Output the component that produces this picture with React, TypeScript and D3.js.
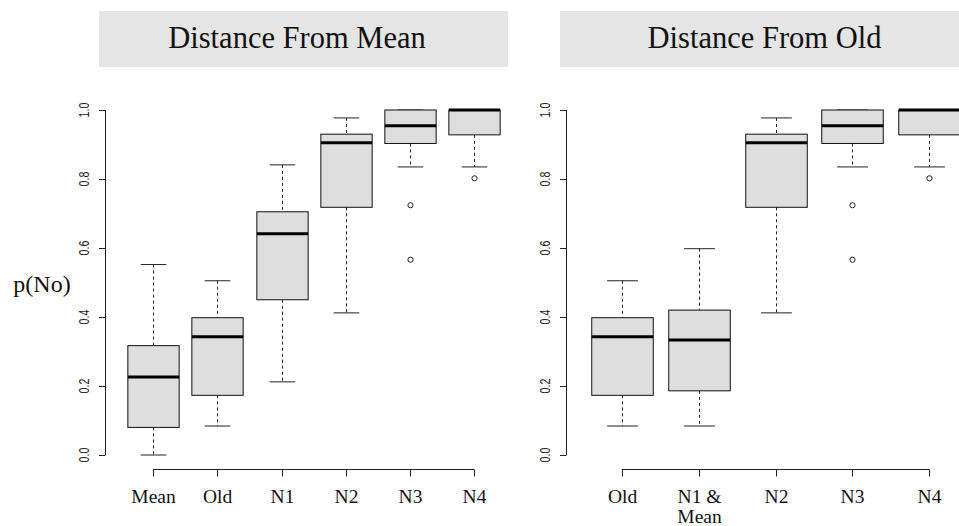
import React from "react";
import * as d3 from "d3";

// ---- data ----
const meanPanelTitle = "Distance From Mean";
const oldPanelTitle = "Distance From Old";
const meanPanelCategories = ["Mean", "Old", "N1", "N2", "N3", "N4"];
const oldPanelCategories = ["Old", "N1 &\nMean", "N2", "N3", "N4"];
// five-number summaries: [lower whisker, Q1, median, Q3, upper whisker]
const meanPanelStats: number[][] = [
  [0.0, 0.08, 0.226, 0.317, 0.552],
  [0.084, 0.173, 0.343, 0.398, 0.505],
  [0.212, 0.45, 0.641, 0.705, 0.841],
  [0.412, 0.718, 0.905, 0.93, 0.977],
  [0.835, 0.903, 0.954, 1.0, 1.0],
  [0.835, 0.928, 1.0, 1.0, 1.0],
];
const meanPanelOutliers: number[][] = [[], [], [], [], [0.724, 0.566], [0.802]];
const oldPanelStats: number[][] = [
  [0.084, 0.173, 0.343, 0.398, 0.505],
  [0.084, 0.186, 0.333, 0.42, 0.598],
  [0.412, 0.718, 0.905, 0.93, 0.977],
  [0.835, 0.903, 0.954, 1.0, 1.0],
  [0.835, 0.928, 1.0, 1.0, 1.0],
];
const oldPanelOutliers: number[][] = [[], [], [], [0.724, 0.566], [0.802]];
const yTicks = [0, 0.2, 0.4, 0.6, 0.8, 1.0];
const yLabel = "p(No)";

const SERIF = "'Liberation Serif', 'DejaVu Serif', serif";
const SANS = "'Liberation Sans', Arial, sans-serif";

type PanelProps = {
  title: string;
  titleCx: number;
  stripX: number;
  cats: string[];
  stats: number[][];
  outliers: number[][];
  axisX: number;
  xRange: [number, number];
};

function Panel({ title, titleCx, stripX, cats, stats, outliers, axisX, xRange }: PanelProps) {
  const y = d3.scaleLinear().domain([0, 1]).range([455, 110]);
  const x = d3.scalePoint<string>().domain(cats).range(xRange);
  const step = x.step();
  const bw = step * 0.8;
  const cw = bw * 0.5;
  const axisY = 469.5;
  return (
    <g>
      <rect x={stripX} y={11} width={409} height={56} fill="#e4e5e4" />
      <text x={titleCx} y={48} textAnchor="middle" fontFamily={SERIF} fontSize={30.5} fill="#111">
        {title}
      </text>
      {/* y axis */}
      <line x1={axisX + 0.5} x2={axisX + 0.5} y1={y(0)} y2={y(1)} stroke="#222" />
      {yTicks.map((t) => (
        <g key={t}>
          <line x1={axisX - 6} x2={axisX + 0.5} y1={Math.round(y(t)) + 0.5} y2={Math.round(y(t)) + 0.5} stroke="#222" />
          <text
            transform={`translate(${axisX - 16},${y(t)}) rotate(-90) scale(0.76,1)`}
            textAnchor="middle"
            fontFamily={SANS}
            fontSize={14}
            fill="#222"
          >
            {t.toFixed(1)}
          </text>
        </g>
      ))}
      {/* x axis */}
      <line x1={x(cats[0])} x2={x(cats[cats.length - 1])} y1={axisY} y2={axisY} stroke="#222" />
      {cats.map((c) => {
        const cx = Math.round(x(c)!) + 0.5;
        const lines = c.split("\n");
        return (
          <g key={c}>
            <line x1={cx} x2={cx} y1={axisY} y2={axisY + 7} stroke="#222" />
            {lines.map((ln, i) => (
              <text key={i} x={cx} y={503 + i * 19.5} textAnchor="middle" fontFamily={SERIF} fontSize={19.5} fill="#111">
                {ln}
              </text>
            ))}
          </g>
        );
      })}
      {/* boxes */}
      {cats.map((c, i) => {
        const cx = Math.round(x(c)!) + 0.5;
        const [lo, q1, med, q3, hi] = stats[i];
        return (
          <g key={c}>
            <line x1={cx} x2={cx} y1={y(hi)} y2={y(q3)} stroke="#222" strokeDasharray="3,3" />
            <line x1={cx} x2={cx} y1={y(q1)} y2={y(lo)} stroke="#222" strokeDasharray="3,3" />
            <line x1={cx - cw / 2} x2={cx + cw / 2} y1={y(hi)} y2={y(hi)} stroke="#222" />
            <line x1={cx - cw / 2} x2={cx + cw / 2} y1={y(lo)} y2={y(lo)} stroke="#222" />
            <rect x={cx - bw / 2} y={y(q3)} width={bw} height={y(q1) - y(q3)} fill="#dedede" stroke="#111" strokeWidth={1} />
            <line x1={cx - bw / 2} x2={cx + bw / 2} y1={y(med)} y2={y(med)} stroke="#000" strokeWidth={3} />
            {outliers[i].map((o, k) => (
              <circle key={k} cx={cx} cy={y(o)} r={2.6} fill="none" stroke="#222" strokeWidth={1} />
            ))}
          </g>
        );
      })}
    </g>
  );
}

export default function App() {
  return (
    <svg
      width={959}
      height={526}
      style={{ position: "absolute", left: 0, top: 0, background: "#fff" }}
    >
      <rect width={959} height={526} fill="#fff" />
      <text x={42} y={292} textAnchor="middle" fontFamily={SERIF} fontSize={24} fill="#111">
        {yLabel}
      </text>
      <Panel
        title={meanPanelTitle}
        titleCx={297}
        stripX={99}
        cats={meanPanelCategories}
        stats={meanPanelStats}
        outliers={meanPanelOutliers}
        axisX={105}
        xRange={[153.3, 474]}
      />
      <Panel
        title={oldPanelTitle}
        titleCx={764.5}
        stripX={560}
        cats={oldPanelCategories}
        stats={oldPanelStats}
        outliers={oldPanelOutliers}
        axisX={566}
        xRange={[621.7, 929.3]}
      />
    </svg>
  );
}
